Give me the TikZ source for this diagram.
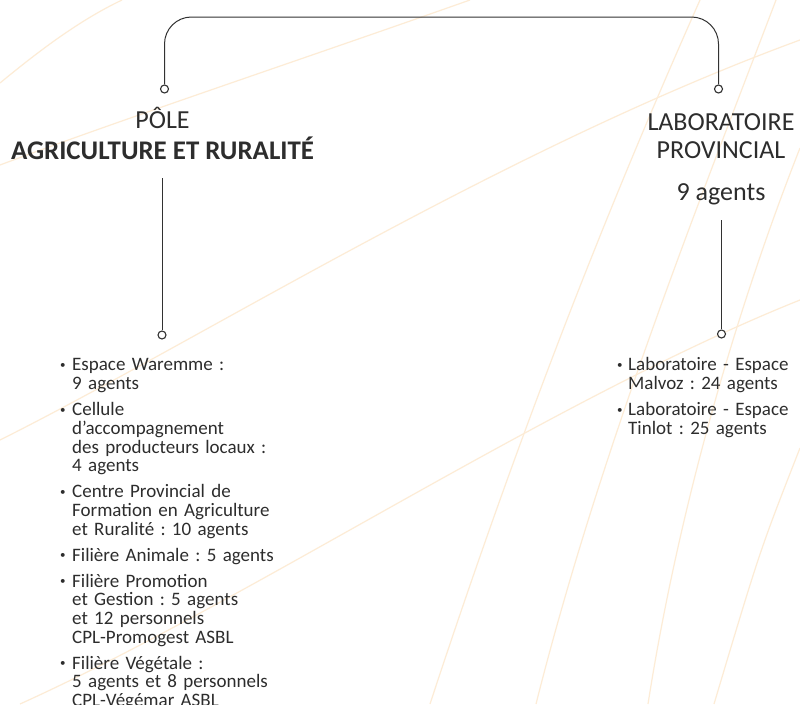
\documentclass[tikz,border=0pt]{standalone}
\usepackage{fontspec}
\setmainfont{Carlito}
\usepackage{enumitem}
\usetikzlibrary{positioning}

\definecolor{textgray}{RGB}{45,45,45}
\definecolor{linegray}{RGB}{50,50,50}
\definecolor{bgline}{RGB}{253,236,214}
\newcommand{\listdot}{\raisebox{2.5pt}{\fontsize{11}{11}\selectfont •}}
\setlist[itemize]{labelsep=0pt,align=left,itemsep=7.3pt,topsep=0pt,parsep=0pt,partopsep=0pt,label=\listdot}
\frenchspacing

\begin{document}
\begin{tikzpicture}[x=1pt,y=-1pt,
  link/.style={draw=linegray,line width=1pt},
  knob/.style={circle,draw=linegray,line width=1.1pt,fill=white,inner sep=0pt,minimum size=8pt},
  head/.style={text=textgray,font=\fontsize{26}{29}\selectfont,inner sep=0pt,align=center},
  items/.style={text=textgray,font=\fontsize{19}{18.7}\selectfont,inner sep=0pt,align=left,text width=#1},
  bgcurve/.style={draw=bgline,line width=1.2pt}]

\useasboundingbox (0,0) rectangle (800,704);
\fill[white] (0,0) rectangle (800,704);

% background sweeps
\draw[bgcurve] (0,83) .. controls (40,50) and (80,20) .. (122,0);
\draw[bgcurve] (0,165) .. controls (120,120) and (300,60) .. (470,0);
\draw[bgcurve] (0,440) .. controls (200,340) and (500,150) .. (800,40);
\draw[bgcurve] (20,704) .. controls (250,600) and (550,400) .. (800,300);
\draw[bgcurve] (776,0) .. controls (700,200) and (600,450) .. (536,704);
\draw[bgcurve] (800,148) .. controls (740,300) and (680,500) .. (648,704);
\draw[bgcurve] (800,448) .. controls (760,550) .. (714,704);
\draw[bgcurve] (430,704) .. controls (530,400) and (620,180) .. (700,0);

% headings
\node[head,anchor=base] (pole) at (162.5,128) {PÔLE};
\node[head,font=\fontsize{26.9}{29}\selectfont\bfseries,below=31pt of pole.base,anchor=base] (agri) {AGRICULTURE ET RURALITÉ};
\node[head,anchor=base] (labo) at (721,130) {LABORATOIRE};
\node[head,below=28pt of labo.base,anchor=base] (prov) {PROVINCIAL};
\node[head,below=42pt of prov.base,anchor=base] (lagents) {9 agents};

% knobs
\node[knob] (ptop) at (164.5,89) {};
\node[knob] (ltop) at (718.5,89) {};
\node[knob] (pbot) at (162,335) {};
\node[knob] (lbot) at (721.5,334) {};

\coordinate (topbar) at (0,17);
\coordinate (pstem) at (162,178);
\coordinate (lstem) at (721.5,220);

\draw[link,rounded corners=27pt] (ptop.north) -- (ptop.north |- topbar) -- (ltop.north |- topbar) -- (ltop.north);
\draw[link] (pstem) -- (pbot.north);
\draw[link] (lstem) -- (lbot.north);

% lists
\node[items=260pt,anchor=north west] (plist) at (60,352) {\lineskiplimit=-100pt
\begin{itemize}[leftmargin=12pt,labelwidth=12pt]
\item Espace Waremme :\\ 9 agents
\item Cellule\\ d’accompagnement\\ des producteurs locaux :\\ 4 agents
\item Centre Provincial de\\ Formation en Agriculture\\ et Ruralité : 10 agents
\item Filière Animale : 5 agents
\item Filière Promotion\\ et Gestion : 5 agents\\ et 12 personnels\\ CPL-Promogest ASBL
\item Filière Végétale :\\ 5 agents et 8 personnels\\ CPL-Végémar ASBL
\end{itemize}};
\node[items=200pt,anchor=north west] (llist) at (617,352) {\lineskiplimit=-100pt
\begin{itemize}[leftmargin=11pt,labelwidth=11pt]
\item Laboratoire - Espace\\ Malvoz : 24 agents
\item Laboratoire - Espace\\ Tinlot : 25 agents
\end{itemize}};

\end{tikzpicture}
\end{document}
